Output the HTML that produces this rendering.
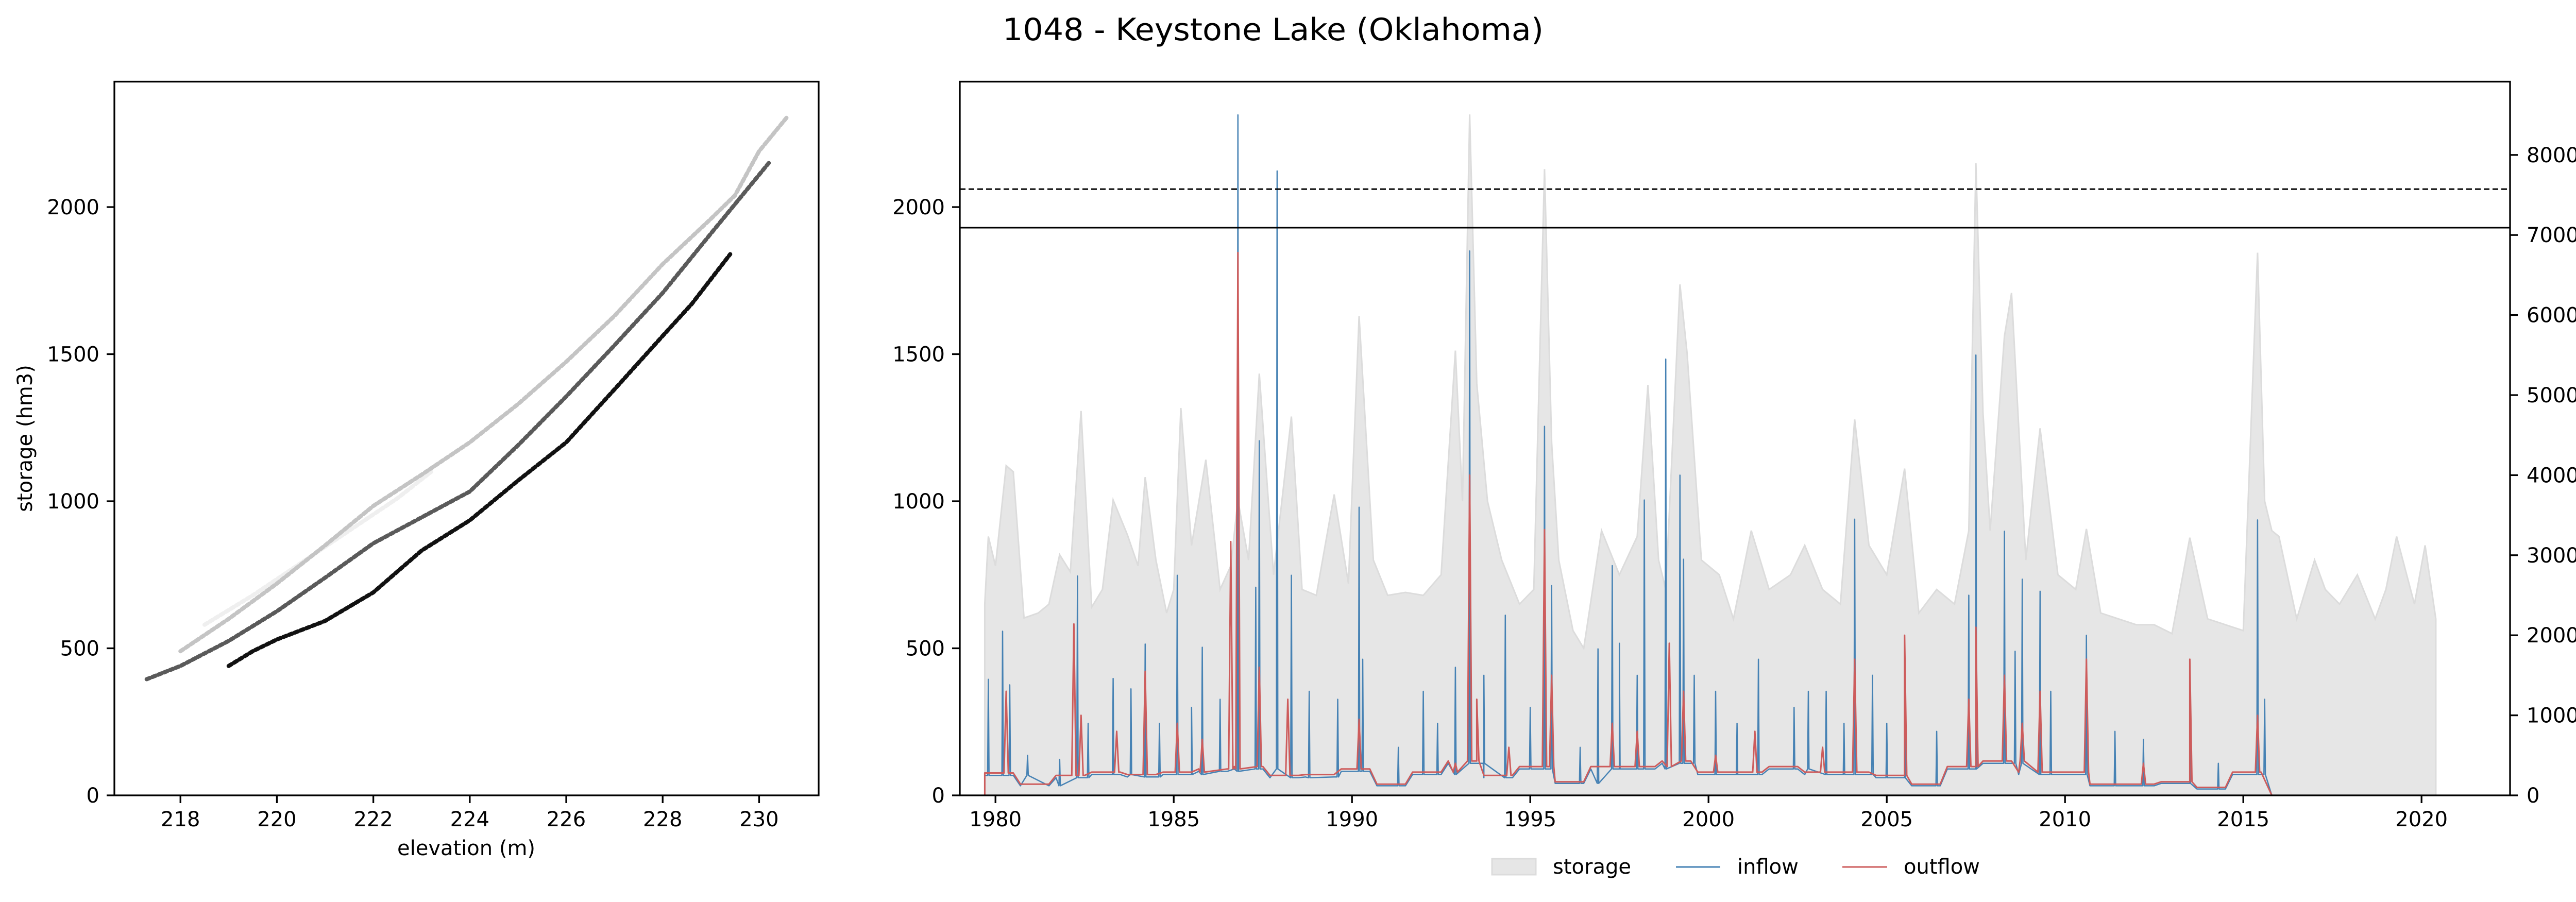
<!DOCTYPE html>
<html><head><meta charset="utf-8">
<style>
html,body{margin:0;padding:0;background:#fff;}
svg{display:block;font-family:"DejaVu Sans","Liberation Sans",sans-serif;}
</style></head>
<body>
<svg id="fig" width="5093" height="1751" viewBox="0 0 5093 1751" xmlns="http://www.w3.org/2000/svg">
<rect x="0" y="0" width="5093" height="1751" fill="#fff"/>
<text x="1946" y="78" font-size="60" textLength="1050" lengthAdjust="spacingAndGlyphs">1048 - Keystone Lake (Oklahoma)</text>
<g id="left"></g>
<g id="right"></g>
</svg>
<script>
// ---------- data: left scatter (elevation m, storage hm3) ----------
const lightestElev = [218.5, 219.5, 220.5, 221.5, 222.5, 223.2];
const lightestStor = [580, 680, 790, 900, 1010, 1100];
const lightElev = [218.0, 219.0, 220.0, 221.0, 222.0, 223.0, 224.0, 225.0, 226.0, 227.0, 228.0, 229.0, 229.5, 230.0, 230.6];
const lightStor = [490, 600, 720, 850, 984, 1090, 1200, 1330, 1474, 1630, 1806, 1960, 2040, 2190, 2310];
const midElev = [217.3, 218.0, 219.0, 220.0, 221.0, 222.0, 223.0, 224.0, 225.0, 226.0, 227.0, 228.0, 229.0, 229.6, 230.2];
const midStor = [395, 440, 525, 626, 740, 857, 945, 1033, 1190, 1356, 1530, 1708, 1910, 2030, 2150];
const darkElev = [219.0, 219.5, 220.0, 221.0, 222.0, 223.0, 224.0, 225.0, 226.0, 227.0, 228.0, 228.6, 229.4];
const darkStor = [440, 490, 530, 593, 690, 832, 935, 1070, 1200, 1380, 1562, 1670, 1840];

// ---------- data: time series ----------
const storT = [1979.7,1979.8,1980.0,1980.3,1980.5,1980.8,1981.2,1981.5,1981.8,1982.1,1982.4,1982.7,1983.0,1983.3,1983.7,1984.0,1984.2,1984.5,1984.8,1985.0,1985.2,1985.5,1985.9,1986.3,1986.6,1986.8,1987.1,1987.4,1987.8,1988.3,1988.6,1989.0,1989.5,1989.9,1990.2,1990.6,1991.0,1991.5,1992.0,1992.5,1992.9,1993.1,1993.3,1993.5,1993.8,1994.2,1994.7,1995.1,1995.4,1995.6,1995.8,1996.2,1996.5,1997.0,1997.5,1998.0,1998.3,1998.6,1998.8,1999.2,1999.4,1999.8,2000.3,2000.7,2001.2,2001.7,2002.3,2002.7,2003.2,2003.7,2004.1,2004.5,2005.0,2005.5,2005.9,2006.4,2006.9,2007.3,2007.5,2007.7,2007.9,2008.3,2008.5,2008.9,2009.3,2009.8,2010.3,2010.6,2011.0,2011.5,2012.0,2012.5,2013.0,2013.5,2014.0,2014.5,2015.0,2015.4,2015.6,2015.8,2016.0,2016.5,2017.0,2017.3,2017.7,2018.2,2018.7,2019.0,2019.3,2019.8,2020.1,2020.4];
const storV = [650,880,780,1121,1100,603,620,650,818,760,1307,640,700,1004,886,780,1082,800,620,700,1317,850,1141,700,780,1004,800,1434,750,1288,700,680,1023,720,1630,800,680,690,680,750,1512,1000,2315,1400,1000,800,650,700,2129,1200,800,560,500,900,750,880,1395,800,700,1737,1502,800,750,600,900,700,750,850,700,650,1278,850,750,1111,620,700,650,900,2149,1300,900,1561,1708,800,1248,750,700,906,620,600,580,580,550,876,600,580,560,1845,1000,900,880,600,800,700,650,750,600,700,880,650,850,600];
const baseYears = [1980,1981,1982,1983,1984,1985,1986,1987,1988,1989,1990,1991,1992,1993,1994,1995,1996,1997,1998,1999,2000,2001,2002,2003,2004,2005,2006,2007,2008,2009,2010,2011,2012,2013,2014,2015];
const inflowBase = [250,120,220,260,230,260,300,330,220,230,300,120,260,400,220,330,150,330,330,400,260,260,330,260,260,220,120,330,400,260,260,120,120,150,80,260];
const outflowBase = [280,140,250,290,260,290,330,360,250,260,330,140,290,430,250,360,170,360,360,430,290,290,360,290,290,250,140,360,430,290,290,140,140,170,100,290];
const inflowT = [1979.8,1980.2,1980.4,1980.9,1981.8,1982.3,1982.6,1983.3,1983.8,1984.2,1984.6,1985.1,1985.5,1985.8,1986.3,1986.8,1987.3,1987.4,1987.9,1988.3,1988.8,1989.6,1990.2,1990.3,1991.3,1992.0,1992.4,1992.9,1993.3,1993.7,1994.3,1995.0,1995.4,1995.6,1996.4,1996.9,1997.3,1997.5,1998.0,1998.2,1998.8,1999.2,1999.3,1999.6,2000.2,2000.8,2001.4,2002.4,2002.8,2003.3,2003.8,2004.1,2004.6,2005.0,2005.5,2006.4,2007.3,2007.5,2008.3,2008.6,2008.8,2009.3,2009.6,2010.6,2011.4,2012.2,2013.5,2014.3,2015.4,2015.6];
const inflowV = [1450,2050,1380,500,450,2740,900,1460,1330,1890,900,2750,1100,1850,1200,8500,2600,4430,7800,2750,1300,1200,3600,1700,600,1300,900,1600,6800,1500,2250,1100,4610,2620,600,1830,2870,1900,1500,3690,5450,4000,2950,1500,1300,900,1700,1100,1300,1300,900,3450,1500,900,1300,800,2500,5500,3300,1800,2700,2550,1300,2000,800,700,1000,400,3440,1200];
const outflowT = [1980.3,1982.2,1982.4,1983.4,1984.2,1985.1,1985.8,1986.6,1986.8,1987.4,1988.2,1990.2,1992.9,1993.3,1993.5,1994.4,1995.4,1995.6,1997.3,1998.0,1998.9,1999.3,2000.2,2001.3,2003.2,2004.1,2005.5,2007.3,2007.5,2008.3,2008.8,2009.3,2010.6,2012.2,2013.5,2015.4];
const outflowV = [1300,2140,1000,800,1550,900,700,3170,6780,1600,1200,950,400,4000,1200,600,3320,1500,900,800,1900,1300,500,800,600,1700,2000,1200,2100,1500,900,1300,1700,400,1700,1000];
const xTicks = [218,220,222,224,226,228,230];
const sTicks = [0,500,1000,1500,2000];
const yearTicks = [1980,1985,1990,1995,2000,2005,2010,2015,2020];
const flowTicks = [0,1000,2000,3000,4000,5000,6000,7000,8000];
const normalLevel = 1930, floodLevel = 2061;

const NS = "http://www.w3.org/2000/svg";
const FS = 40;
function mk(parent, tag, attrs, text){
  const e = document.createElementNS(NS, tag);
  for (const k in attrs) e.setAttribute(k, attrs[k]);
  if (text !== undefined) e.textContent = text;
  parent.appendChild(e); return e;
}
const lx = e => 222 + (e - 216.63) * 93.6;
const ly = s => 1544 - s * 0.571;
const rx = t => 1863 + (t - 1979.0) * 69.2;
const rs = s => 1544 - s * 0.571;
const rf = f => 1544 - f * 0.1554;

// ---------- left chart ----------
const L = document.getElementById('left');
function curve(xs, ys, color, name){
  const pts = xs.map((x,i)=> lx(x).toFixed(1)+','+ly(ys[i]).toFixed(1)).join(' ');
  const p = mk(L, 'polyline', {points: pts, fill:'none', stroke: color, 'stroke-width': 8, 'stroke-linecap':'round', 'stroke-linejoin':'round', 'stroke-dasharray':'7 5'});
  
  
}
curve(lightestElev, lightestStor, '#efefef', 'scatter-series-lightest');
curve(lightElev, lightStor, '#c4c4c4', 'scatter-series-light');
curve(midElev, midStor, '#5a5a5a', 'scatter-series-mid');
curve(darkElev, darkStor, '#111111', 'scatter-series-dark');
const lf = mk(L,'rect',{x:222,y:158.5,width:1367,height:1385.5,fill:'none',stroke:'#000','stroke-width':3.3});


xTicks.forEach(v=>{
  const x = lx(v);
  mk(L,'line',{x1:x,x2:x,y1:1544,y2:1559,stroke:'#000','stroke-width':3.3});
  const t = mk(L,'text',{x:x,y:1604,'font-size':FS,'text-anchor':'middle'}, String(v));
  
  
});
sTicks.forEach(v=>{
  const y = ly(v);
  mk(L,'line',{x1:207,x2:222,y1:y,y2:y,stroke:'#000','stroke-width':3.3});
  const t = mk(L,'text',{x:193,y:y+14,'font-size':FS,'text-anchor':'end'}, String(v));
  
  
});
const xl = mk(L,'text',{x:905,y:1660,'font-size':FS,'text-anchor':'middle'},'elevation (m)');


const yl = mk(L,'text',{x:0,y:0,'font-size':FS,'text-anchor':'middle',transform:'translate(62,851) rotate(-90)'},'storage (hm3)');



// ---------- right chart ----------
const R = document.getElementById('right');
const clip = mk(R,'clipPath',{id:'rc'});
mk(clip,'rect',{x:1863,y:158.5,width:3009,height:1385.5});
const plot = mk(R,'g',{'clip-path':'url(#rc)'});
let d = 'M'+rx(storT[0]).toFixed(1)+','+rs(0);
storT.forEach((t,i)=>{ d += ' L'+rx(t).toFixed(1)+','+rs(storV[i]).toFixed(1); });
d += ' L'+rx(storT[storT.length-1]).toFixed(1)+','+rs(0)+' Z';
const sa = mk(plot,'path',{d:d,fill:'#e6e6e6',stroke:'#dcdcdc','stroke-width':3});



function flowPath(ts, vs, base, w){
  const pts = [];
  baseYears.forEach((y,i)=>{ pts.push([y-0.3, base[i]]); pts.push([y+0.5, base[i]]); });
  const baseAt = t => { let i = Math.min(base.length-1, Math.max(0, Math.floor(t)-1980)); return base[i]; };
  ts.forEach((t,i)=>{ const b = baseAt(t); pts.push([t-w, b]); pts.push([t, vs[i]]); pts.push([t+w, b]); });
  pts.sort((a,b)=>a[0]-b[0]);
  pts.unshift([1979.7,0]); pts.push([2015.8,0]);
  return pts.map((p,i)=>(i?'L':'M')+rx(p[0]).toFixed(1)+','+rf(p[1]).toFixed(1)).join(' ');
}
const inf = mk(plot,'path',{d:flowPath(inflowT, inflowV, inflowBase, 0.02),fill:'none',stroke:'#4682b4','stroke-width':2.5,'stroke-linejoin':'round'});


const outf = mk(plot,'path',{d:flowPath(outflowT, outflowV, outflowBase, 0.06),fill:'none',stroke:'#cd5c5c','stroke-width':3,'stroke-linejoin':'round'});


const nl = mk(R,'line',{x1:1863,x2:4872,y1:rs(normalLevel),y2:rs(normalLevel),stroke:'#000','stroke-width':3});


const fl = mk(R,'line',{x1:1863,x2:4872,y1:rs(floodLevel),y2:rs(floodLevel),stroke:'#000','stroke-width':3,'stroke-dasharray':'11 6'});


const rf0 = mk(R,'rect',{x:1863,y:158.5,width:3009,height:1385.5,fill:'none',stroke:'#000','stroke-width':3.3});


yearTicks.forEach(v=>{
  const x = rx(v);
  mk(R,'line',{x1:x,x2:x,y1:1544,y2:1559,stroke:'#000','stroke-width':3.3});
  const t = mk(R,'text',{x:x,y:1604,'font-size':FS,'text-anchor':'middle'}, String(v));
  
  
});
sTicks.forEach(v=>{
  const y = rs(v);
  mk(R,'line',{x1:1848,x2:1863,y1:y,y2:y,stroke:'#000','stroke-width':3.3});
  const t = mk(R,'text',{x:1834,y:y+14,'font-size':FS,'text-anchor':'end'}, String(v));
  
  
});
flowTicks.forEach(v=>{
  const y = rf(v);
  mk(R,'line',{x1:4872,x2:4887,y1:y,y2:y,stroke:'#000','stroke-width':3.3});
  const t = mk(R,'text',{x:4904,y:y+14,'font-size':FS,'text-anchor':'start'}, String(v));
  
  
});
const fy = mk(R,'text',{x:0,y:0,'font-size':FS,'text-anchor':'middle',transform:'translate(5030,851) rotate(90)'},'flow (m3/s)');



// legend
const lg = mk(R,'g',{});


const le1 = mk(lg,'rect',{x:2896,y:1667,width:85,height:31,fill:'#e6e6e6',stroke:'#dcdcdc','stroke-width':3});


mk(lg,'text',{x:3014,y:1696,'font-size':FS},'storage');
const le2 = mk(lg,'line',{x1:3253,x2:3339,y1:1683,y2:1683,stroke:'#4682b4','stroke-width':3});


mk(lg,'text',{x:3372,y:1696,'font-size':FS},'inflow');
const le3 = mk(lg,'line',{x1:3576,x2:3663,y1:1683,y2:1683,stroke:'#cd5c5c','stroke-width':3});


mk(lg,'text',{x:3695,y:1696,'font-size':FS},'outflow');
</script>
</body></html>
